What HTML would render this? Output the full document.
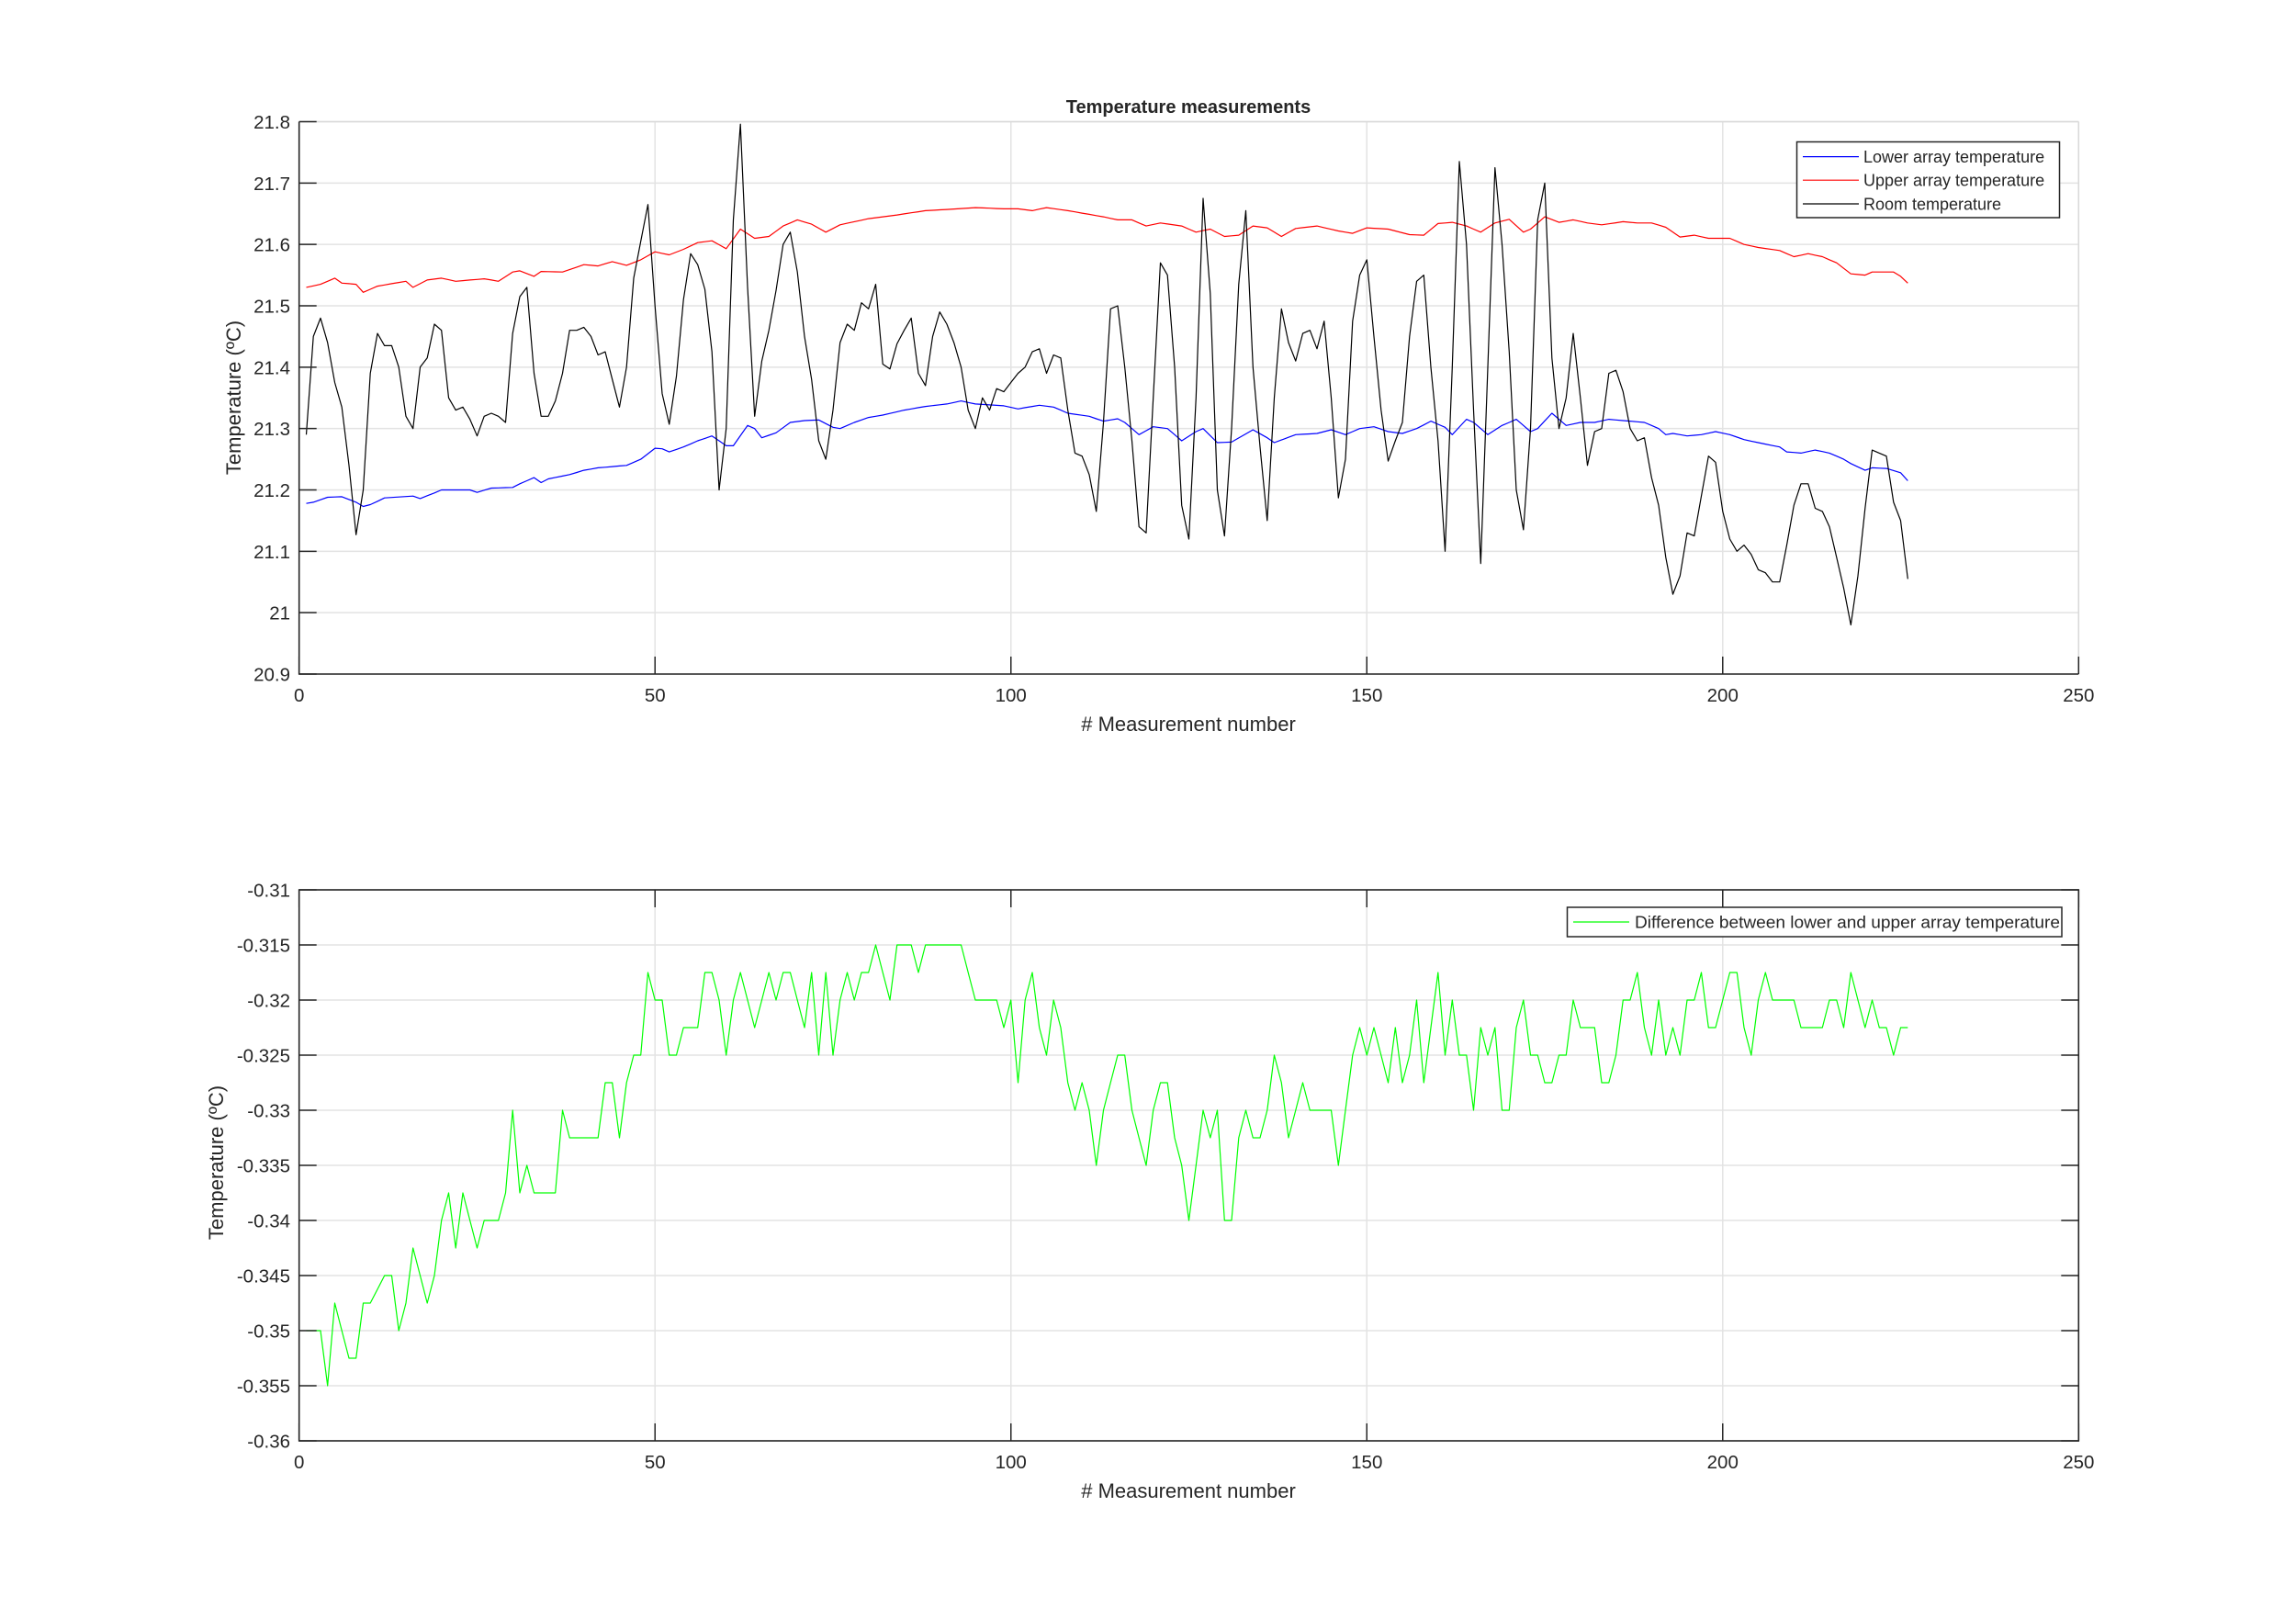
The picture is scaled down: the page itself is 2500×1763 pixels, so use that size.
<!DOCTYPE html>
<html><head><meta charset="utf-8"><style>
html,body{margin:0;padding:0;background:#fff;}
svg{display:block;}
text{font-family:"Liberation Sans",Arial,sans-serif;fill:#262626;}
</style></head><body>
<svg id="s" xmlns="http://www.w3.org/2000/svg" width="2500" height="1763" viewBox="0 0 2500 1763"></svg>
<script>
const S=document.getElementById('s');
let h='';
const X0=325.7,X1=2263.3;
const fx=i=>X0+(X1-X0)*i/250;
const T0=132.5,TB=734;
const fy1=v=>TB-(v-20.9)/0.9*(TB-T0);
const B0=969,BB=1569;
const fy2=v=>BB-(v+0.36)/0.05*(BB-B0);
function interp(kp){const out=[];for(let i=1;i<=226;i++){let k=0;while(k<kp.length-2&&kp[k+1][0]<i)k++;const a=kp[k],b=kp[k+1];let v;if(i<=a[0])v=a[1];else if(i>=b[0])v=b[1];else v=a[1]+(b[1]-a[1])*(i-a[0])/(b[0]-a[0]);out.push([i,v]);}return out;}
function path(pts,fy,col){return '<polyline fill="none" stroke="'+col+'" stroke-width="1.2" stroke-linejoin="round" points="'+pts.map(p=>fx(p[0]).toFixed(1)+','+fy(p[1]).toFixed(1)).join(' ')+'"/>';}
for(let k=0;k<=5;k++){const x=fx(k*50);h+=`<line x1="${x}" y1="${T0}" x2="${x}" y2="${TB}" stroke="#e3e3e3" stroke-width="1.5"/>`;}
for(let k=0;k<=9;k++){const y=fy1(20.9+k*0.1);h+=`<line x1="${X0}" y1="${y}" x2="${X1}" y2="${y}" stroke="#e3e3e3" stroke-width="1.5"/>`;}
for(let k=0;k<=5;k++){const x=fx(k*50);h+=`<line x1="${x}" y1="${B0}" x2="${x}" y2="${BB}" stroke="#e3e3e3" stroke-width="1.5"/>`;}
for(let k=0;k<=10;k++){const y=fy2(-0.36+k*0.005);h+=`<line x1="${X0}" y1="${y}" x2="${X1}" y2="${y}" stroke="#e3e3e3" stroke-width="1.5"/>`;}
const room=[[1,21.29],[2,21.45],[3,21.48],[4,21.44],[5,21.375],[6,21.335],[7,21.24],[8,21.127],[9,21.2],[10,21.39],[11,21.455],[12,21.435],[13,21.435],[14,21.4],[15,21.32],[16,21.3],[17,21.4],[18,21.415],[19,21.47],[20,21.46],[21,21.35],[22,21.33],[23,21.335],[24,21.315],[25,21.288],[26,21.32],[27,21.325],[28,21.32],[29,21.31],[30,21.455],[31,21.515],[32,21.53],[33,21.39],[34,21.32],[35,21.32],[36,21.345],[37,21.39],[38,21.46],[39,21.46],[40,21.465],[41,21.45],[42,21.42],[43,21.425],[44,21.38],[45,21.335],[46,21.4],[47,21.545],[48,21.605],[49,21.665],[50,21.5],[51,21.357],[52,21.307],[53,21.385],[54,21.51],[55,21.585],[56,21.567],[57,21.527],[58,21.425],[59,21.2],[60,21.3],[61,21.64],[62,21.796],[63,21.53],[64,21.32],[65,21.41],[66,21.46],[67,21.525],[68,21.6],[69,21.62],[70,21.555],[71,21.45],[72,21.38],[73,21.28],[74,21.25],[75,21.33],[76,21.44],[77,21.47],[78,21.46],[79,21.505],[80,21.495],[81,21.535],[82,21.405],[83,21.397],[84,21.438],[85,21.46],[86,21.48],[87,21.39],[88,21.37],[89,21.45],[90,21.49],[91,21.47],[92,21.44],[93,21.40],[94,21.33],[95,21.30],[96,21.35],[97,21.33],[98,21.365],[99,21.36],[100,21.375],[101,21.39],[102,21.40],[103,21.425],[104,21.43],[105,21.39],[106,21.42],[107,21.415],[108,21.33],[109,21.26],[110,21.255],[111,21.225],[112,21.165],[113,21.31],[114,21.495],[115,21.5],[116,21.4],[117,21.28],[118,21.14],[119,21.13],[120,21.35],[121,21.57],[122,21.55],[123,21.4],[124,21.175],[125,21.12],[126,21.35],[127,21.675],[128,21.52],[129,21.2],[130,21.125],[131,21.3],[132,21.535],[133,21.655],[134,21.4],[135,21.27],[136,21.15],[137,21.35],[138,21.495],[139,21.44],[140,21.41],[141,21.455],[142,21.46],[143,21.43],[144,21.475],[145,21.35],[146,21.187],[147,21.25],[148,21.475],[149,21.55],[150,21.575],[151,21.45],[152,21.33],[153,21.247],[154,21.28],[155,21.31],[156,21.45],[157,21.54],[158,21.55],[159,21.4],[160,21.28],[161,21.1],[162,21.4],[163,21.735],[164,21.6],[165,21.33],[166,21.08],[167,21.4],[168,21.725],[169,21.6],[170,21.425],[171,21.2],[172,21.135],[173,21.3],[174,21.64],[175,21.7],[176,21.415],[177,21.3],[178,21.35],[179,21.455],[180,21.35],[181,21.24],[182,21.295],[183,21.3],[184,21.39],[185,21.395],[186,21.36],[187,21.3],[188,21.28],[189,21.285],[190,21.22],[191,21.175],[192,21.09],[193,21.03],[194,21.06],[195,21.13],[196,21.125],[197,21.19],[198,21.255],[199,21.245],[200,21.165],[201,21.12],[202,21.1],[203,21.11],[204,21.095],[205,21.07],[206,21.065],[207,21.05],[208,21.05],[209,21.11],[210,21.175],[211,21.21],[212,21.21],[213,21.17],[214,21.165],[215,21.14],[216,21.09],[217,21.04],[218,20.98],[219,21.06],[220,21.17],[221,21.265],[222,21.26],[223,21.255],[224,21.18],[225,21.15],[226,21.055]];
const red=interp([[1,21.53],[3,21.535],[5,21.545],[6,21.537],[8,21.535],[9,21.522],[11,21.532],[15,21.54],[16,21.53],[18,21.542],[20,21.545],[22,21.54],[26,21.544],[28,21.54],[30,21.555],[31,21.557],[33,21.548],[34,21.556],[37,21.555],[40,21.567],[42,21.565],[44,21.572],[46,21.566],[48,21.575],[50,21.588],[52,21.583],[54,21.592],[56,21.603],[58,21.606],[60,21.593],[62,21.625],[64,21.61],[66,21.613],[68,21.63],[70,21.64],[72,21.633],[74,21.62],[76,21.632],[80,21.642],[84,21.648],[88,21.655],[91,21.657],[95,21.66],[99,21.658],[101,21.658],[103,21.655],[105,21.66],[108,21.655],[113,21.645],[115,21.64],[117,21.64],[119,21.63],[121,21.635],[124,21.63],[126,21.62],[128,21.625],[130,21.613],[132,21.615],[134,21.63],[136,21.627],[138,21.613],[140,21.626],[143,21.63],[146,21.622],[148,21.618],[150,21.627],[153,21.625],[156,21.616],[158,21.615],[160,21.634],[162,21.636],[164,21.63],[166,21.62],[168,21.635],[170,21.641],[172,21.62],[173,21.625],[175,21.645],[177,21.636],[179,21.64],[181,21.635],[183,21.632],[186,21.637],[188,21.635],[190,21.635],[192,21.628],[194,21.612],[196,21.615],[198,21.61],[201,21.61],[203,21.6],[205,21.595],[208,21.59],[210,21.58],[212,21.585],[214,21.58],[216,21.57],[218,21.552],[220,21.55],[221,21.555],[224,21.555],[225,21.548],[226,21.537]]);
const blue=interp([[1,21.178],[2,21.18],[4,21.188],[6,21.189],[8,21.18],[9,21.173],[10,21.176],[12,21.187],[16,21.19],[17,21.186],[19,21.195],[20,21.2],[22,21.2],[24,21.2],[25,21.196],[27,21.203],[30,21.204],[31,21.21],[33,21.22],[34,21.212],[35,21.218],[38,21.225],[40,21.232],[42,21.236],[46,21.24],[48,21.25],[50,21.268],[51,21.267],[52,21.262],[54,21.27],[56,21.28],[58,21.288],[60,21.272],[61,21.272],[63,21.305],[64,21.3],[65,21.285],[67,21.293],[69,21.31],[71,21.313],[73,21.314],[75,21.302],[76,21.3],[78,21.31],[80,21.318],[82,21.322],[85,21.33],[88,21.336],[91,21.34],[93,21.345],[95,21.34],[99,21.337],[101,21.332],[104,21.338],[106,21.335],[108,21.325],[111,21.32],[113,21.312],[115,21.316],[116,21.31],[118,21.29],[120,21.303],[122,21.3],[124,21.28],[126,21.295],[127,21.3],[129,21.277],[131,21.278],[134,21.298],[136,21.285],[137,21.277],[140,21.29],[143,21.292],[145,21.298],[147,21.29],[149,21.3],[151,21.303],[153,21.295],[155,21.292],[157,21.3],[159,21.312],[161,21.302],[162,21.29],[164,21.315],[165,21.31],[167,21.29],[169,21.305],[171,21.315],[173,21.295],[174,21.3],[176,21.325],[178,21.305],[180,21.31],[182,21.31],[184,21.315],[187,21.312],[189,21.31],[191,21.3],[192,21.29],[193,21.292],[195,21.288],[197,21.29],[199,21.295],[201,21.29],[203,21.282],[205,21.277],[208,21.27],[209,21.262],[211,21.26],[213,21.265],[215,21.26],[217,21.25],[218,21.243],[220,21.232],[221,21.236],[223,21.235],[225,21.228],[226,21.215]]);
const gd=interp([[1,-0.35],[3,-0.35],[4,-0.355],[5,-0.3475],[7,-0.3525],[8,-0.3525],[9,-0.3475],[10,-0.3475],[12,-0.345],[13,-0.345],[14,-0.35],[15,-0.3475],[16,-0.3425],[18,-0.3475],[19,-0.345],[20,-0.34],[21,-0.3375],[22,-0.3425],[23,-0.3375],[24,-0.34],[25,-0.3425],[26,-0.34],[28,-0.34],[29,-0.3375],[30,-0.33],[31,-0.3375],[32,-0.335],[33,-0.3375],[36,-0.3375],[37,-0.33],[38,-0.3325],[42,-0.3325],[43,-0.3275],[44,-0.3275],[45,-0.3325],[46,-0.3275],[47,-0.325],[48,-0.325],[49,-0.3175],[50,-0.32],[51,-0.32],[52,-0.325],[53,-0.325],[54,-0.3225],[56,-0.3225],[57,-0.3175],[58,-0.3175],[59,-0.32],[60,-0.325],[61,-0.32],[62,-0.3175],[63,-0.32],[64,-0.3225],[65,-0.32],[66,-0.3175],[67,-0.32],[68,-0.3175],[69,-0.3175],[70,-0.32],[71,-0.3225],[72,-0.3175],[73,-0.325],[74,-0.3175],[75,-0.325],[76,-0.32],[77,-0.3175],[78,-0.32],[79,-0.3175],[80,-0.3175],[81,-0.315],[82,-0.3175],[83,-0.32],[84,-0.315],[86,-0.315],[87,-0.3175],[88,-0.315],[93,-0.315],[95,-0.32],[98,-0.32],[99,-0.3225],[100,-0.32],[101,-0.3275],[102,-0.32],[103,-0.3175],[104,-0.3225],[105,-0.325],[106,-0.32],[107,-0.3225],[108,-0.3275],[109,-0.33],[110,-0.3275],[111,-0.33],[112,-0.335],[113,-0.33],[114,-0.3275],[115,-0.325],[116,-0.325],[117,-0.33],[118,-0.3325],[119,-0.335],[120,-0.33],[121,-0.3275],[122,-0.3275],[123,-0.3325],[124,-0.335],[125,-0.34],[126,-0.335],[127,-0.33],[128,-0.3325],[129,-0.33],[130,-0.34],[131,-0.34],[132,-0.3325],[133,-0.33],[134,-0.3325],[135,-0.3325],[136,-0.33],[137,-0.325],[138,-0.3275],[139,-0.3325],[140,-0.33],[141,-0.3275],[142,-0.33],[145,-0.33],[146,-0.335],[147,-0.33],[148,-0.325],[149,-0.3225],[150,-0.325],[151,-0.3225],[152,-0.325],[153,-0.3275],[154,-0.3225],[155,-0.3275],[156,-0.325],[157,-0.32],[158,-0.3275],[159,-0.3225],[160,-0.3175],[161,-0.325],[162,-0.32],[163,-0.325],[164,-0.325],[165,-0.33],[166,-0.3225],[167,-0.325],[168,-0.3225],[169,-0.33],[170,-0.33],[171,-0.3225],[172,-0.32],[173,-0.325],[174,-0.325],[175,-0.3275],[176,-0.3275],[177,-0.325],[178,-0.325],[179,-0.32],[180,-0.3225],[182,-0.3225],[183,-0.3275],[184,-0.3275],[185,-0.325],[186,-0.32],[187,-0.32],[188,-0.3175],[189,-0.3225],[190,-0.325],[191,-0.32],[192,-0.325],[193,-0.3225],[194,-0.325],[195,-0.32],[196,-0.32],[197,-0.3175],[198,-0.3225],[199,-0.3225],[200,-0.32],[201,-0.3175],[202,-0.3175],[203,-0.3225],[204,-0.325],[205,-0.32],[206,-0.3175],[207,-0.32],[210,-0.32],[211,-0.3225],[214,-0.3225],[215,-0.32],[216,-0.32],[217,-0.3225],[218,-0.3175],[219,-0.32],[220,-0.3225],[221,-0.32],[222,-0.3225],[223,-0.3225],[224,-0.325],[225,-0.3225],[226,-0.3225]]);
h+=path(blue,fy1,'#0000ff')+path(red,fy1,'#ff0000')+path(room,fy1,'#000000');
h+=path(gd,fy2,'#00ff00');
h+=`<line x1="${X0}" y1="${T0}" x2="${X1}" y2="${T0}" stroke="#d9d9d9" stroke-width="1.5"/><line x1="${X1}" y1="${T0}" x2="${X1}" y2="${TB}" stroke="#d9d9d9" stroke-width="1.5"/>`;
h+=`<path d="M${X0} ${T0}V${TB}H${X1}" fill="none" stroke="#262626" stroke-width="1.6"/>`;
for(let k=0;k<=5;k++){const x=fx(k*50);h+=`<line x1="${x}" y1="${TB}" x2="${x}" y2="${TB-19}" stroke="#262626" stroke-width="1.5"/><text x="${x}" y="764" font-size="20.5" text-anchor="middle">${k*50}</text>`;}
const tl=['20.9','21','21.1','21.2','21.3','21.4','21.5','21.6','21.7','21.8'];
for(let k=0;k<=9;k++){const y=fy1(20.9+k*0.1);h+=`<line x1="${X0}" y1="${y}" x2="${X0+19}" y2="${y}" stroke="#262626" stroke-width="1.5"/><text x="316" y="${y+7.5}" font-size="20.5" text-anchor="end">${tl[k]}</text>`;}
h+=`<text x="1294" y="123" font-size="20" font-weight="bold" text-anchor="middle" fill="#000">Temperature measurements</text>`;
h+=`<text x="1294" y="796" font-size="22" text-anchor="middle">#  Measurement number</text>`;
h+=`<text transform="translate(262,433) rotate(-90)" font-size="22" text-anchor="middle">Temperature (ºC)</text>`;
h+=`<rect x="1956.5" y="154.5" width="286" height="82.5" fill="#fff" stroke="#262626" stroke-width="1.5"/>`;
[['#0000ff','Lower array temperature',170.6],['#ff0000','Upper array temperature',196.2],['#000000','Room temperature',222]].forEach(r=>{h+=`<line x1="1963" y1="${r[2]}" x2="2024" y2="${r[2]}" stroke="${r[0]}" stroke-width="1.2"/><text x="2029" y="${r[2]+6.5}" font-size="18" fill="#000">${r[1]}</text>`;});
h+=`<rect x="${X0}" y="${B0}" width="${X1-X0}" height="${BB-B0}" fill="none" stroke="#262626" stroke-width="1.6"/>`;
for(let k=0;k<=5;k++){const x=fx(k*50);h+=`<line x1="${x}" y1="${BB}" x2="${x}" y2="${BB-19}" stroke="#262626" stroke-width="1.5"/><line x1="${x}" y1="${B0}" x2="${x}" y2="${B0+19}" stroke="#262626" stroke-width="1.5"/><text x="${x}" y="1599" font-size="20.5" text-anchor="middle">${k*50}</text>`;}
const bl=['-0.36','-0.355','-0.35','-0.345','-0.34','-0.335','-0.33','-0.325','-0.32','-0.315','-0.31'];
for(let k=0;k<=10;k++){const y=fy2(-0.36+k*0.005);h+=`<line x1="${X0}" y1="${y}" x2="${X0+19}" y2="${y}" stroke="#262626" stroke-width="1.5"/><line x1="${X1}" y1="${y}" x2="${X1-19}" y2="${y}" stroke="#262626" stroke-width="1.5"/><text x="316" y="${y+7.5}" font-size="20.5" text-anchor="end">${bl[k]}</text>`;}
h+=`<text x="1294" y="1631" font-size="22" text-anchor="middle">#  Measurement number</text>`;
h+=`<text transform="translate(243,1266) rotate(-90)" font-size="22" text-anchor="middle">Temperature (ºC)</text>`;
h+=`<rect x="1706.5" y="988" width="538.5" height="32" fill="#fff" stroke="#262626" stroke-width="1.5"/><line x1="1713" y1="1004" x2="1774" y2="1004" stroke="#00ff00" stroke-width="1.2"/><text x="1780" y="1010.5" font-size="18" fill="#000" textLength="463" lengthAdjust="spacingAndGlyphs">Difference between lower and upper array temperature</text>`;
S.innerHTML=h;
</script>
</body></html>
